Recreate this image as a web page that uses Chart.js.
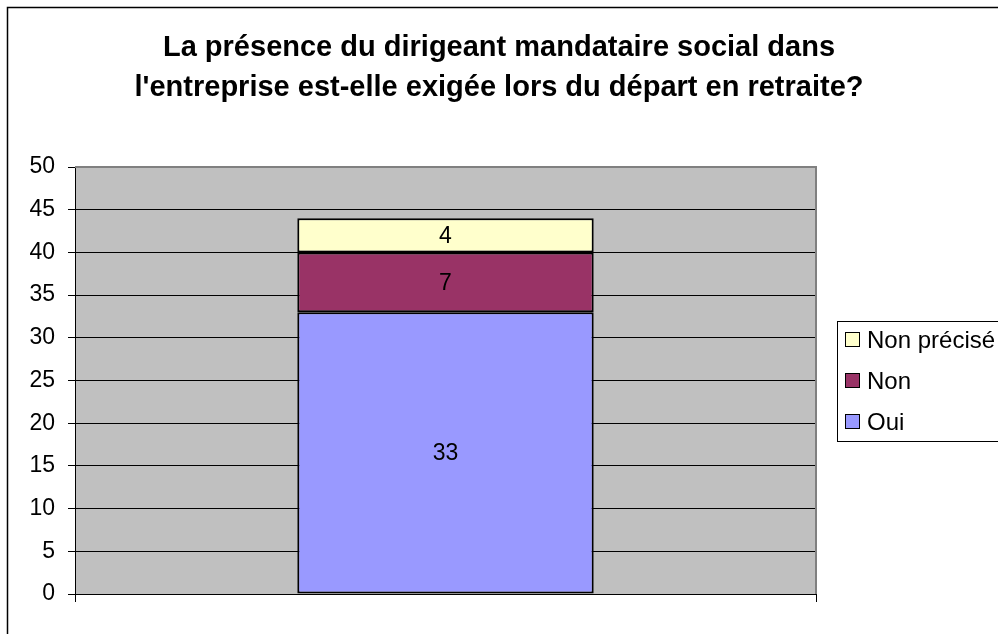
<!DOCTYPE html>
<html>
<head>
<meta charset="utf-8">
<script src="https://cdn.jsdelivr.net/npm/chart.js@4.4.1/dist/chart.umd.min.js"></script>
<style>
  html, body { margin: 0; padding: 0; background: #fff; }
  canvas { display: block; }
</style>
</head>
<body>
<canvas id="retraiteChart" width="998" height="634"></canvas>
<script>
// données du graphique
const categories = [''];
const seriesLabels = ['Oui', 'Non', 'Non précisé'];
const ouiValues = [33];
const nonValues = [7];
const nonPreciseValues = [4];
const seriesColors = ['#9999FF', '#993366', '#FFFFCC'];
const yMin = 0;
const yMax = 50;
const yStep = 5;
const titleLines = [
  'La présence du dirigeant mandataire social dans',
  "l'entreprise est-elle exigée lors du départ en retraite?"
];

const FONT = '"Liberation Sans", Arial, sans-serif';
const TXT = 23;

// fond gris de la zone de tracé + cadre extérieur
const backgroundPlugin = {
  id: 'plotBackground',
  beforeDraw(chart) {
    const { ctx, chartArea: a } = chart;
    ctx.save();
    ctx.fillStyle = '#fff';
    ctx.fillRect(0, 0, chart.width, chart.height);
    ctx.strokeStyle = '#000';
    ctx.lineWidth = 1.5;
    ctx.strokeRect(7.5, 7.5, chart.width + 20, chart.height + 20);
    ctx.fillStyle = '#C0C0C0';
    ctx.fillRect(a.left, a.top, a.right - a.left, a.bottom - a.top);
    ctx.restore();
  },
  afterDraw(chart) {
    // bordure grise en haut et à droite de la zone de tracé
    const { ctx, chartArea: a } = chart;
    ctx.save();
    ctx.strokeStyle = '#808080';
    ctx.lineWidth = 2;
    ctx.beginPath();
    ctx.moveTo(a.left, a.top);
    ctx.lineTo(a.right, a.top);
    ctx.lineTo(a.right, a.bottom);
    ctx.stroke();
    ctx.restore();
  }
};

// étiquettes de valeurs au centre des segments
const valueLabelsPlugin = {
  id: 'valueLabels',
  afterDatasetsDraw(chart) {
    const { ctx } = chart;
    ctx.save();
    ctx.font = TXT + 'px ' + FONT;
    ctx.fillStyle = '#000';
    ctx.textAlign = 'center';
    ctx.textBaseline = 'middle';
    chart.data.datasets.forEach((ds, i) => {
      const meta = chart.getDatasetMeta(i);
      meta.data.forEach((bar, j) => {
        const v = ds.data[j];
        if (!v) return;
        ctx.fillText(String(v), bar.x, (bar.y + bar.base) / 2 + 1);
      });
    });
    ctx.restore();
  }
};

// légende encadrée à droite (ordre inversé comme dans Excel)
const boxLegendPlugin = {
  id: 'boxLegend',
  afterDraw(chart) {
    const { ctx } = chart;
    const bx = 837, by = 321, bw = 220, bh = 120;
    ctx.save();
    ctx.fillStyle = '#fff';
    ctx.fillRect(bx, by, bw, bh);
    ctx.strokeStyle = '#000';
    ctx.lineWidth = 1;
    ctx.strokeRect(bx + 0.5, by + 0.5, bw, bh);
    ctx.font = '24px ' + FONT;
    ctx.textBaseline = 'middle';
    ctx.textAlign = 'left';
    const items = chart.data.datasets.slice().reverse();
    items.forEach((ds, k) => {
      const cy = by + 19 + k * 41;
      ctx.fillStyle = ds.backgroundColor;
      ctx.fillRect(846, cy - 7, 13, 13);
      ctx.strokeStyle = '#000';
      ctx.strokeRect(845.5, cy - 7.5, 14, 14);
      ctx.fillStyle = '#000';
      ctx.fillText(ds.label, 867, cy + 1);
    });
    ctx.restore();
  }
};

const ctx = document.getElementById('retraiteChart').getContext('2d');
new Chart(ctx, {
  type: 'bar',
  data: {
    labels: categories,
    datasets: [
      { label: seriesLabels[0], data: ouiValues, backgroundColor: seriesColors[0] },
      { label: seriesLabels[1], data: nonValues, backgroundColor: seriesColors[1] },
      { label: seriesLabels[2], data: nonPreciseValues, backgroundColor: seriesColors[2] }
    ].map(d => Object.assign(d, {
      borderColor: '#000',
      borderWidth: 2,
      borderSkipped: false,
      categoryPercentage: 1,
      barPercentage: 0.4
    }))
  },
  options: {
    responsive: false,
    animation: false,
    devicePixelRatio: 1,
    layout: { padding: { top: 0, left: 0, right: 0, bottom: 0 } },
    plugins: {
      legend: { display: false },
      tooltip: { enabled: false },
      title: {
        display: true,
        text: titleLines,
        color: '#000',
        font: { family: FONT, size: 29, weight: 'bold', lineHeight: 40 / 29 },
        padding: { top: 28, bottom: 59 }
      }
    },
    scales: {
      x: {
        stacked: true,
        grid: { display: true, drawOnChartArea: false, offset: true, color: '#000', tickLength: 8 },
        border: { display: true, color: '#000', width: 1 },
        ticks: { display: false },
        afterFit: s => { s.height = 40; }
      },
      y: {
        stacked: true,
        min: yMin,
        max: yMax,
        ticks: {
          stepSize: yStep,
          color: '#000',
          padding: 13,
          font: { family: FONT, size: TXT }
        },
        grid: {
          color: c => (c.tick && c.tick.value === yMax ? 'rgba(0,0,0,0)' : '#000'),
          lineWidth: 1,
          tickLength: 7,
          tickColor: '#000'
        },
        border: { display: true, color: '#000', width: 1 },
        afterFit: s => { s.width = 75; }
      },
      // axe fantôme pour réserver la place de la légende
      spacer: {
        position: 'right',
        display: true,
        grid: { display: false },
        border: { display: false },
        ticks: { display: false },
        afterFit: s => { s.width = 182; }
      }
    }
  },
  plugins: [backgroundPlugin, valueLabelsPlugin, boxLegendPlugin]
});
</script>
</body>
</html>
